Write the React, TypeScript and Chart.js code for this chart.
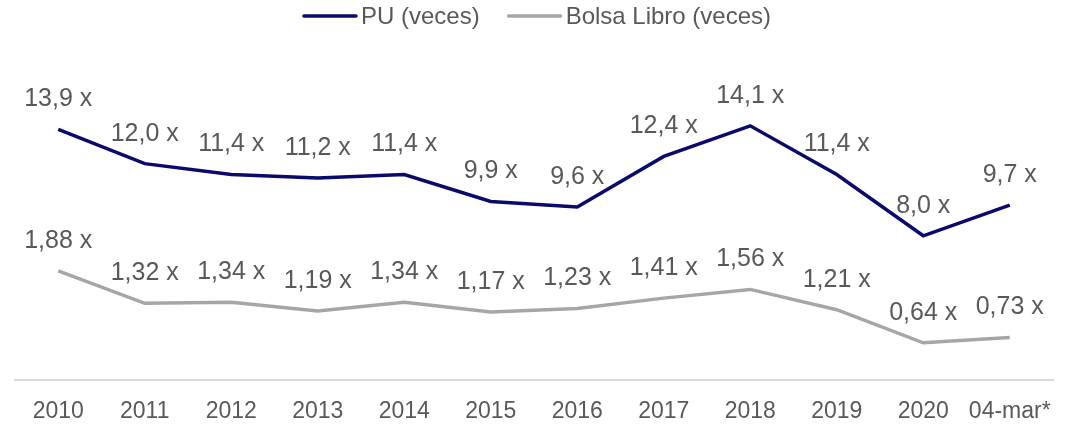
import React, { useEffect, useRef } from "react";
import { Chart, registerables } from "chart.js";

Chart.register(...registerables);

const categories = ["2010", "2011", "2012", "2013", "2014", "2015", "2016", "2017", "2018", "2019", "2020", "04-mar*"];
const puValues = [13.9, 12.0, 11.4, 11.2, 11.4, 9.9, 9.6, 12.4, 14.1, 11.4, 8.0, 9.7];
const blValues = [1.88, 1.32, 1.34, 1.19, 1.34, 1.17, 1.23, 1.41, 1.56, 1.21, 0.64, 0.73];
const seriesNames = ["PU (veces)", "Bolsa Libro (veces)"];
const seriesDecimals = [1, 2];

const FONT = "'Liberation Sans', Arial, sans-serif";
const TEXT_COLOR = "#595959";
const PU_COLOR = "#0a0a6b";
const BL_COLOR = "#a6a6a6";

const labelPlugin = {
  id: "valueLabels",
  afterDatasetsDraw(chart: any) {
    const ctx = chart.ctx;
    ctx.save();
    ctx.font = `25px ${FONT}`;
    ctx.fillStyle = TEXT_COLOR;
    ctx.textAlign = "center";
    ctx.textBaseline = "middle";
    chart.data.datasets.forEach((ds: any, di: number) => {
      const meta = chart.getDatasetMeta(di);
      meta.data.forEach((pt: any, i: number) => {
        const v = ds.data[i] as number;
        const txt = v.toFixed(seriesDecimals[di]).replace(".", ",") + " x";
        ctx.fillText(txt, pt.x, pt.y - 30);
      });
    });
    ctx.restore();
  },
};

const legendPlugin = {
  id: "lineLegend",
  afterDraw(chart: any) {
    const ctx = chart.ctx;
    ctx.save();
    ctx.font = `24px ${FONT}`;
    ctx.textBaseline = "middle";
    ctx.textAlign = "left";
    const lineLen = 52;
    const gap = 5;
    const itemGap = 29;
    const widths = chart.data.datasets.map((ds: any) => ctx.measureText(ds.label).width);
    let total = 0;
    widths.forEach((w: number, i: number) => {
      total += lineLen + gap + w + (i < widths.length - 1 ? itemGap : 0);
    });
    let x = 537.5 - total / 2;
    const y = 16;
    chart.data.datasets.forEach((ds: any, i: number) => {
      ctx.strokeStyle = ds.borderColor;
      ctx.lineWidth = 3.5;
      ctx.lineCap = "round";
      ctx.beginPath();
      ctx.moveTo(x, y);
      ctx.lineTo(x + lineLen, y);
      ctx.stroke();
      x += lineLen + gap;
      ctx.fillStyle = TEXT_COLOR;
      ctx.fillText(ds.label, x, y + 1);
      x += widths[i] + itemGap;
    });
    ctx.restore();
  },
};

export default function App() {
  const canvasRef = useRef<HTMLCanvasElement | null>(null);

  useEffect(() => {
    if (!canvasRef.current) return;
    const chart = new Chart(canvasRef.current, {
      type: "line",
      data: {
        labels: categories,
        datasets: [
          {
            label: seriesNames[0],
            data: puValues,
            borderColor: PU_COLOR,
            backgroundColor: PU_COLOR,
            borderWidth: 3.5,
            pointRadius: 0,
            tension: 0,
            yAxisID: "y",
          },
          {
            label: seriesNames[1],
            data: blValues,
            borderColor: BL_COLOR,
            backgroundColor: BL_COLOR,
            borderWidth: 3.5,
            pointRadius: 0,
            tension: 0,
            yAxisID: "y1",
          },
        ],
      },
      options: {
        animation: false,
        responsive: true,
        maintainAspectRatio: false,
        layout: { padding: { top: 60, left: 15, right: 20, bottom: 0 } },
        plugins: {
          legend: { display: false },
          tooltip: { enabled: false },
        },
        scales: {
          x: {
            type: "category",
            offset: true,
            grid: { display: false, drawTicks: false, tickLength: 0 },
            border: { display: true, color: "#d9d9d9", width: 2 },
            ticks: {
              color: TEXT_COLOR,
              font: { family: FONT, size: 23 },
              padding: 18,
              maxRotation: 0,
              autoSkip: false,
            },
            afterFit(scale: any) {
              scale.height = 46;
            },
          },
          y: { display: false, min: 0, max: 17.75 },
          y1: { display: false, min: 0, max: 5.51 },
        },
      },
      plugins: [labelPlugin, legendPlugin],
    });
    return () => chart.destroy();
  }, []);

  return (
    <div style={{ position: "absolute", left: 0, top: 0, width: 1073, height: 426, background: "#ffffff" }}>
      <canvas ref={canvasRef} />
    </div>
  );
}
